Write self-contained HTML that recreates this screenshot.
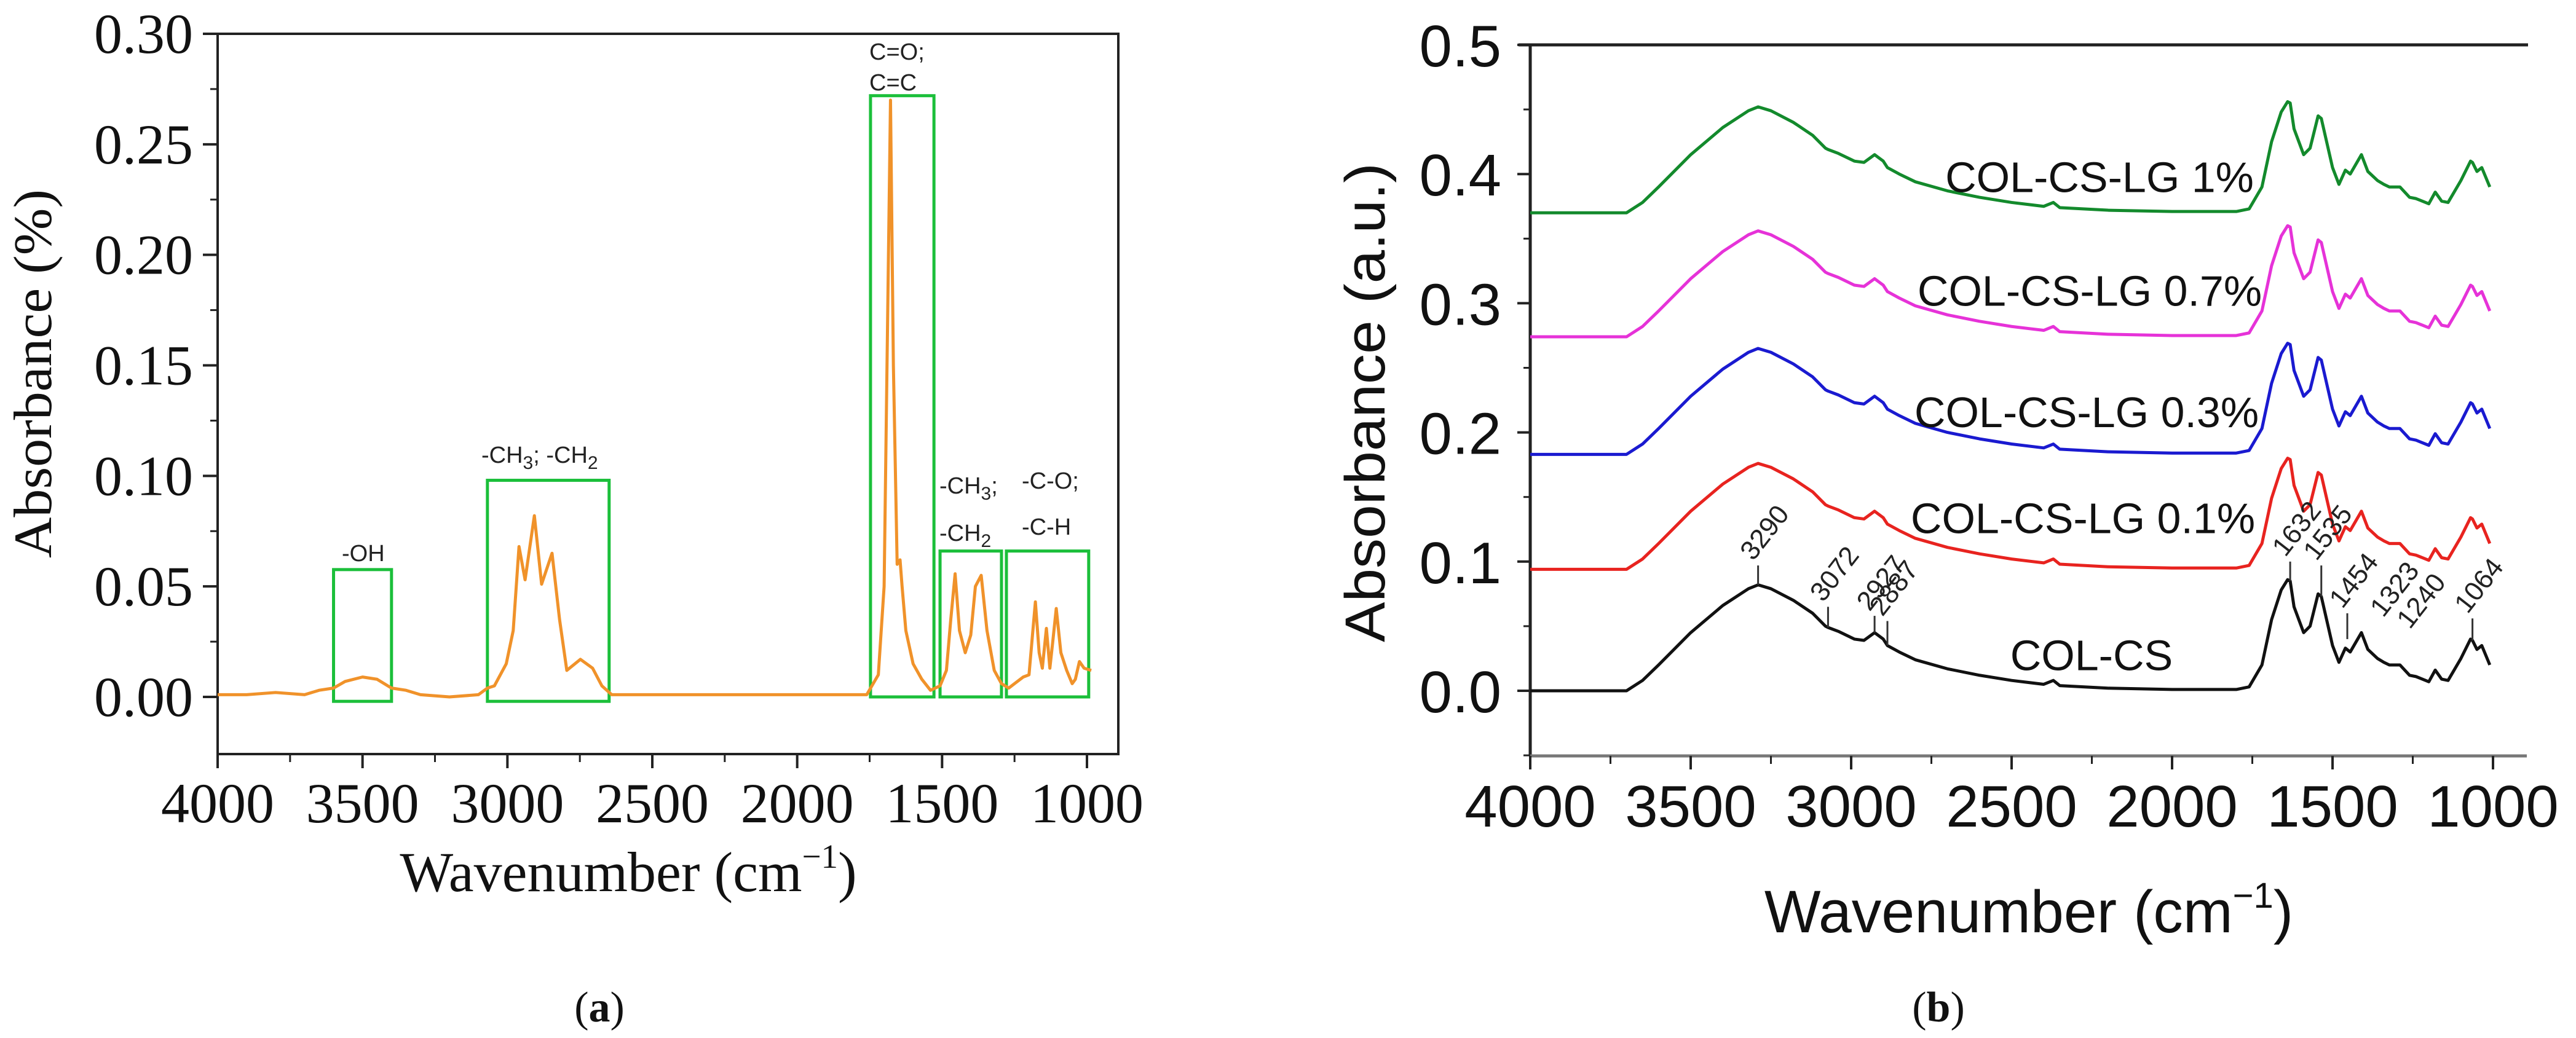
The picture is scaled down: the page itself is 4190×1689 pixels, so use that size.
<!DOCTYPE html>
<html><head><meta charset="utf-8"><style>
html,body{margin:0;padding:0;background:#fff;}
svg{display:block;}
</style></head><body>
<svg id="fig" width="4190" height="1689" viewBox="0 0 4190 1689" xmlns="http://www.w3.org/2000/svg">
<g id="pa"></g>
<g id="pb"></g>
</svg>
<script>
// ---------- Panel (a) data ----------
const aWave = [4000,3900,3800,3700,3650,3600,3560,3500,3450,3400,3350,3300,3200,3100,3069,3045,3004,2980,2960,2939,2907,2882,2846,2820,2795,2748,2706,2674,2640,2500,2200,1900,1760,1720,1700,1685,1678,1668,1655,1645,1638,1625,1600,1570,1540,1507,1485,1470,1455,1440,1420,1401,1385,1365,1345,1320,1295,1270,1220,1200,1178,1165,1154,1140,1128,1118,1106,1090,1070,1051,1040,1026,1010,985];
const aAbs  = [0.001,0.001,0.002,0.001,0.003,0.004,0.007,0.009,0.008,0.004,0.003,0.001,0.000,0.001,0.004,0.005,0.015,0.03,0.068,0.053,0.082,0.051,0.065,0.035,0.012,0.017,0.013,0.005,0.001,0.001,0.001,0.001,0.001,0.01,0.05,0.2,0.27,0.15,0.06,0.062,0.05,0.03,0.015,0.008,0.003,0.005,0.012,0.035,0.0557,0.03,0.02,0.028,0.05,0.055,0.03,0.012,0.006,0.004,0.009,0.01,0.043,0.02,0.013,0.031,0.013,0.025,0.040,0.02,0.012,0.006,0.008,0.016,0.013,0.012];
const aYTicks = [0.00,0.05,0.10,0.15,0.20,0.25,0.30];
const aXTicks = [4000,3500,3000,2500,2000,1500,1000];
const aBoxLeft  = [3600,3069,1747,1507,1278];
const aBoxRight = [3400,2649,1528,1295,994];
const aBoxTop   = [0.0576,0.098,0.272,0.066,0.066];
const aBoxBottom= [-0.002,-0.002,0.0,0.0,0.0];

// ---------- Panel (b) data ----------
const bWave = [4000,3900,3800,3700,3650,3600,3500,3400,3320,3290,3250,3180,3120,3080,3072,3040,2990,2960,2927,2900,2887,2850,2800,2700,2600,2500,2400,2370,2350,2200,2000,1800,1760,1720,1690,1660,1640,1632,1620,1590,1570,1545,1535,1500,1480,1460,1445,1410,1390,1360,1340,1323,1290,1260,1240,1200,1180,1160,1140,1100,1070,1064,1050,1035,1010];
const bBlack = [0,0,0,0,0.008,0.02,0.045,0.066,0.079,0.082,0.079,0.07,0.06,0.05,0.049,0.046,0.04,0.039,0.045,0.04,0.035,0.03,0.024,0.017,0.012,0.008,0.005,0.008,0.004,0.002,0.001,0.001,0.003,0.02,0.055,0.078,0.086,0.085,0.065,0.045,0.05,0.075,0.073,0.035,0.022,0.033,0.03,0.045,0.032,0.025,0.022,0.02,0.02,0.012,0.011,0.007,0.016,0.009,0.008,0.025,0.04,0.039,0.032,0.035,0.02];
const bNames = ["COL-CS","COL-CS-LG 0.1%","COL-CS-LG 0.3%","COL-CS-LG 0.7%","COL-CS-LG 1%"];
const bOffsets = [0,0.094,0.183,0.274,0.370];
const bYTicks = [0.0,0.1,0.2,0.3,0.4,0.5];
const bXTicks = [4000,3500,3000,2500,2000,1500,1000];
const bPeaks = [3290,3072,2927,2887,1632,1535,1454,1064];
const bPeakTop = [0.097,0.065,0.058,0.054,0.1,0.097,0.06,0.056];
const bPeakLabelsNoLine = [1323,1240];
const bPeakLabelsNoLineY = [0.056,0.047];

const NS="http://www.w3.org/2000/svg";
function mk(parent,tag,attrs,text){const e=document.createElementNS(NS,tag);for(const k in attrs)e.setAttribute(k,attrs[k]);if(text!==undefined)e.textContent=text;parent.appendChild(e);return e;}

// ---------- Panel a ----------
const pa=document.getElementById('pa');
const xa=w=>354+(4000-w)/3000*1414;
const ya=v=>1134-v/0.30*1079;
let e;
e=mk(pa,'rect',{x:354,y:55,width:1465,height:1172,fill:'none',stroke:'#222','stroke-width':4});

aYTicks.forEach((t,i)=>{
  e=mk(pa,'line',{x1:330,x2:354,y1:ya(t),y2:ya(t),stroke:'#222','stroke-width':4});
  
  if(i<aYTicks.length-1){e=mk(pa,'line',{x1:342,x2:354,y1:ya(t+0.025),y2:ya(t+0.025),stroke:'#222','stroke-width':3});
  }
  e=mk(pa,'text',{x:314,y:ya(t)+31,'text-anchor':'end','font-family':'Liberation Serif, serif','font-size':92,fill:'#111'},t.toFixed(2));
  
});
aXTicks.forEach((t,i)=>{
  e=mk(pa,'line',{x1:xa(t),x2:xa(t),y1:1227,y2:1250,stroke:'#222','stroke-width':4});
  
  if(i<aXTicks.length-1){e=mk(pa,'line',{x1:xa(t-250),x2:xa(t-250),y1:1227,y2:1240,stroke:'#222','stroke-width':3});
  }
  e=mk(pa,'text',{x:xa(t),y:1338,'text-anchor':'middle','font-family':'Liberation Serif, serif','font-size':92,fill:'#111'},String(t));
  
});
aBoxLeft.forEach((l,i)=>{
  const x1=xa(l),x2=xa(aBoxRight[i]),y1=ya(aBoxTop[i]),y2=ya(aBoxBottom[i]);
  e=mk(pa,'rect',{x:x1,y:y1,width:x2-x1,height:y2-y1,fill:'none',stroke:'#1bbf3a','stroke-width':5});
  
});
e=mk(pa,'polyline',{points:aWave.map((w,i)=>xa(w)+','+ya(aAbs[i])).join(' '),fill:'none',stroke:'#f0922a','stroke-width':5,'stroke-linejoin':'round'});

const afont='Liberation Sans, sans-serif';
function lab(p,x,y,s,name,size){const t=mk(p,'text',{x:x,y:y,'font-family':afont,'font-size':size||38,fill:'#222'});t.innerHTML=s;return t;}
lab(pa,556,913,'-OH','oh-band-label');
lab(pa,783,753,'-CH<tspan dy="10" font-size="30">3</tspan><tspan dy="-10">; -CH</tspan><tspan dy="10" font-size="30">2</tspan>','ch-band-label');
lab(pa,1414,97,'C=O;','co-band-label');
lab(pa,1414,147,'C=C','cc-band-label');
lab(pa,1528,803,'-CH<tspan dy="10" font-size="30">3</tspan><tspan dy="-10">;</tspan>','ch3-band-label');
lab(pa,1528,880,'-CH<tspan dy="10" font-size="30">2</tspan>','ch2-band-label');
lab(pa,1662,795,'-C-O;','c-o-band-label');
lab(pa,1662,870,'-C-H','c-h-band-label');
e=mk(pa,'text',{x:1022,y:1450,'text-anchor':'middle','font-family':'Liberation Serif, serif','font-size':92,fill:'#111'});
e.innerHTML='Wavenumber (cm<tspan dy="-38" font-size="55">−1</tspan><tspan dy="38">)</tspan>';

e=mk(pa,'text',{x:0,y:0,'text-anchor':'middle','font-family':'Liberation Serif, serif','font-size':88,fill:'#111',transform:'translate(83,608) rotate(-90)',textLength:600,lengthAdjust:'spacingAndGlyphs'},'Absorbance (%)');

e=mk(pa,'text',{x:975,y:1662,'text-anchor':'middle','font-family':'Liberation Serif, serif','font-size':70,fill:'#111'});
e.innerHTML='(<tspan font-weight="bold">a</tspan>)';


// ---------- Panel b ----------
const pb=document.getElementById('pb');
const xb=w=>2489+(4000-w)/3000*1566;
const yb=v=>1124-v/0.5*1051;
e=mk(pb,'line',{x1:2489,x2:2489,y1:73,y2:1230,stroke:'#222','stroke-width':5});

e=mk(pb,'line',{x1:2489,x2:4110,y1:1230,y2:1230,stroke:'#777','stroke-width':5});

e=mk(pb,'line',{x1:2470,x2:4112,y1:73,y2:73,stroke:'#222','stroke-width':5});

bYTicks.forEach((t,i)=>{
  e=mk(pb,'line',{x1:2468,x2:2489,y1:yb(t),y2:yb(t),stroke:'#222','stroke-width':4});
  
  e=mk(pb,'line',{x1:2478,x2:2489,y1:yb(t-0.05),y2:yb(t-0.05),stroke:'#222','stroke-width':3});
  
  e=mk(pb,'text',{x:2442,y:yb(t)+35,'text-anchor':'end','font-family':afont,'font-size':96,fill:'#111'},t.toFixed(1));
  
});
bXTicks.forEach((t,i)=>{
  e=mk(pb,'line',{x1:xb(t),x2:xb(t),y1:1230,y2:1252,stroke:'#222','stroke-width':4});
  
  if(i<bXTicks.length-1){e=mk(pb,'line',{x1:xb(t-250),x2:xb(t-250),y1:1230,y2:1243,stroke:'#222','stroke-width':3});
  }
  e=mk(pb,'text',{x:xb(t),y:1345,'text-anchor':'middle','font-family':afont,'font-size':96,fill:'#111'},String(t));
  
});
const bColors=['#111','#e8231f','#1a1ad0','#e632d8','#138a2c'];
const bLabelX=[3402,3388,3394,3399,3415];
const bLabelY=[0.016,0.122,0.204,0.298,0.386];
bOffsets.forEach((off,s)=>{
  e=mk(pb,'polyline',{points:bWave.map((w,i)=>xb(w)+','+yb(bBlack[i]+off)).join(' '),fill:'none',stroke:bColors[s],'stroke-width':5,'stroke-linejoin':'round'});
  
  e=mk(pb,'text',{x:bLabelX[s],y:yb(bLabelY[s]),'text-anchor':'middle','font-family':afont,'font-size':70,fill:'#111'},bNames[s]);
  
});
bPeaks.forEach((p,i)=>{
  const idx=bWave.indexOf(p);
  const v=idx>=0?bBlack[idx]:0.04;
  const x=xb(p),y1=yb(v),y2=yb(bPeakTop[i]);
  e=mk(pb,'line',{x1:x,x2:x,y1:y1,y2:y2,stroke:'#333','stroke-width':3});
  
  e=mk(pb,'text',{x:0,y:0,'font-family':afont,'font-size':44,fill:'#222',transform:'translate('+(x-8)+','+(y2-6)+') rotate(-52)'},String(p));
  
});
bPeakLabelsNoLine.forEach((p,i)=>{
  e=mk(pb,'text',{x:0,y:0,'font-family':afont,'font-size':44,fill:'#222',transform:'translate('+(xb(p)-10)+','+yb(bPeakLabelsNoLineY[i])+') rotate(-52)'},String(p));
  
});
e=mk(pb,'text',{x:3300,y:1517,'text-anchor':'middle','font-family':afont,'font-size':97,fill:'#111'});
e.innerHTML='Wavenumber (cm<tspan dy="-40" font-size="58">−1</tspan><tspan dy="40">)</tspan>';

e=mk(pb,'text',{x:0,y:0,'text-anchor':'middle','font-family':afont,'font-size':92,fill:'#111',transform:'translate(2252,655) rotate(-90)',textLength:780,lengthAdjust:'spacingAndGlyphs'},'Absorbance (a.u.)');

e=mk(pb,'text',{x:3153,y:1662,'text-anchor':'middle','font-family':'Liberation Serif, serif','font-size':70,fill:'#111'});
e.innerHTML='(<tspan font-weight="bold">b</tspan>)';

</script>
</body></html>
